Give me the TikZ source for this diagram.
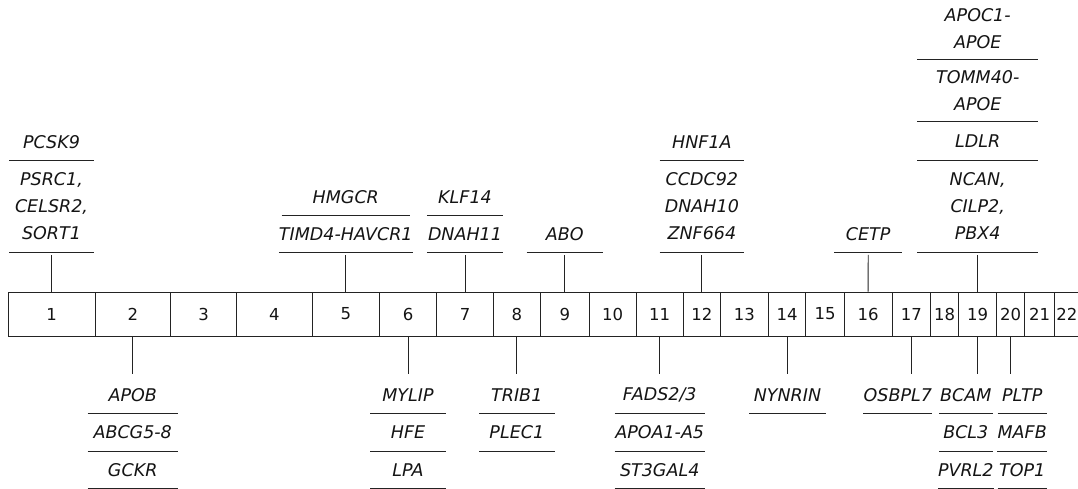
\documentclass[tikz,border=0pt]{standalone}
\usepackage{fontspec}
\setmainfont{DejaVu Sans}
\definecolor{linec}{RGB}{35,35,35}
\definecolor{txt}{RGB}{20,20,20}
\tikzset{
  ln/.style={line width=0.9pt, draw=linec},
  cell/.style={draw=linec, line width=0.9pt, minimum height=44pt, inner sep=0pt,
    font=\fontsize{16.5}{18}\selectfont, text=txt},
  gene/.style={inner sep=0pt, align=center, text=txt, minimum width=#1,
    font=\fontsize{17.5}{27}\selectfont\itshape,
    append after command={(\tikzlastnode.south west) edge[ln] (\tikzlastnode.south east)}},
  hA/.style={minimum height=36.6pt},
  hB/.style={minimum height=37pt},
  hL/.style={minimum height=38pt},
  h2/.style={minimum height=62pt},
  h3/.style={minimum height=91.6pt},
  up/.style={ln, shorten >=2.5pt},
  down/.style={ln, shorten >=2pt},
}
\begin{document}
\begin{tikzpicture}[x=1pt,y=-1pt]
\useasboundingbox (0,0) rectangle (1078,488);
% chromosome bar
\foreach \l/\r [count=\i] in {8/95, 95/170.5, 170.5/236.5, 236.5/312.3, 312.3/379.3,
  379.3/436.7, 436.7/493.3, 493.3/540.3, 540.3/589.3, 589.3/636, 636/683.3,
  683.3/720.5, 720.5/768.3, 768.3/805.7, 805.7/844.3, 844.3/892, 892/930.7,
  930.7/958.7, 958.7/996.7, 996.7/1024.7, 1024.7/1054.3, 1054.3/1079.5}
  \node[cell, minimum width={(\r-\l)*1pt}] (c\i) at ({(\l+\r)/2},314) {\i};

% ---------- upper groups ----------
\node[gene=84pt, h3, anchor=south] (g1b) at (51.5,252.3) {PSRC1,\\CELSR2,\\SORT1};
\node[gene=84pt, hA, anchor=south] (g1a) at (g1b.north) {PCSK9};
\draw[up] (c1.north) -- (g1b.south);

\node[gene=128pt, hA, anchor=south] (g5b) at (345.8,252.3) {TIMD4-HAVCR1};
\node[gene=128pt, hA, anchor=south] (g5a) at (g5b.north) {HMGCR};
\draw[up] (c5.north) -- (g5b.south);

\node[gene=76pt, hA, anchor=south] (g7b) at (465,252.3) {DNAH11};
\node[gene=76pt, hA, anchor=south] (g7a) at (g7b.north) {KLF14};
\draw[up] (c7.north) -- (g7b.south);

\node[gene=76pt, hA, anchor=south] (g9) at (564.8,252.3) {ABO};
\draw[up] (c9.north) -- (g9.south);

\node[gene=84pt, h3, anchor=south] (g12b) at (701.9,252.3) {CCDC92\\DNAH10\\ZNF664};
\node[gene=84pt, hA, anchor=south] (g12a) at (g12b.north) {HNF1A};
\draw[up] (c12.north) -- (g12b.south);

\node[gene=68pt, hA, anchor=south] (g16) at (868.2,252.3) {CETP};
\draw[up] (c16.north) -- (g16.south);

\node[gene=121pt, h3, anchor=south] (g19d) at (977.7,252.3) {NCAN,\\CILP2,\\PBX4};
\node[gene=121pt, hL, anchor=south] (g19c) at (g19d.north) {LDLR};
\node[gene=121pt, h2, anchor=south] (g19b) at (g19c.north) {TOMM40-\\APOE};
\node[gene=121pt, h2, anchor=south] (g19a) at (g19b.north) {APOC1-\\APOE};
\draw[up] (c19.north) -- (g19d.south);

% ---------- lower groups ----------
\node[gene=90pt, hB, anchor=north] (g2a) at (132.7,376.3) {APOB};
\node[gene=90pt, hB, anchor=north] (g2b) at (g2a.south) {ABCG5-8};
\node[gene=90pt, hB, anchor=north] (g2c) at (g2b.south) {GCKR};
\draw[down] (c2.south) -- (c2.south |- g2a.north);

\node[gene=75pt, hB, anchor=north] (g6a) at (408,376.3) {MYLIP};
\node[gene=75pt, hB, anchor=north] (g6b) at (g6a.south) {HFE};
\node[gene=75pt, hB, anchor=north] (g6c) at (g6b.south) {LPA};
\draw[down] (c6.south) -- (c6.south |- g6a.north);

\node[gene=75pt, hB, anchor=north] (g8a) at (516.8,376.3) {TRIB1};
\node[gene=75pt, hB, anchor=north] (g8b) at (g8a.south) {PLEC1};
\draw[down] (c8.south) -- (c8.south |- g8a.north);

\node[gene=90pt, hB, anchor=north] (g11a) at (659.7,376.3) {FADS2/3};
\node[gene=90pt, hB, anchor=north] (g11b) at (g11a.south) {APOA1-A5};
\node[gene=90pt, hB, anchor=north] (g11c) at (g11b.south) {ST3GAL4};
\draw[down] (c11.south) -- (c11.south |- g11a.north);

\node[gene=76pt, hB, anchor=north] (g14) at (787.5,376.3) {NYNRIN};
\draw[down] (c14.south) -- (c14.south |- g14.north);

\node[gene=64pt, hB, anchor=north] (g17) at (897.8,376.3) {OSBPL7};
\draw[down] (c17.south) -- (c17.south |- g17.north);

\node[gene=53pt, hB, anchor=north] (g19e) at (965.8,376.3) {BCAM};
\node[gene=53pt, hB, anchor=north] (g19f) at (g19e.south) {BCL3};
\node[gene=53pt, hB, anchor=north] (g19g) at (g19f.south) {PVRL2};
\draw[down] (c19.south) -- (c19.south |- g19e.north);

\node[gene=49pt, hB, anchor=north] (g20a) at (1022.2,376.3) {PLTP};
\node[gene=49pt, hB, anchor=north] (g20b) at (g20a.south) {MAFB};
\node[gene=49pt, hB, anchor=north] (g20c) at (g20b.south) {TOP1};
\draw[down] (c20.south) -- (c20.south |- g20a.north);
\end{tikzpicture}
\end{document}
